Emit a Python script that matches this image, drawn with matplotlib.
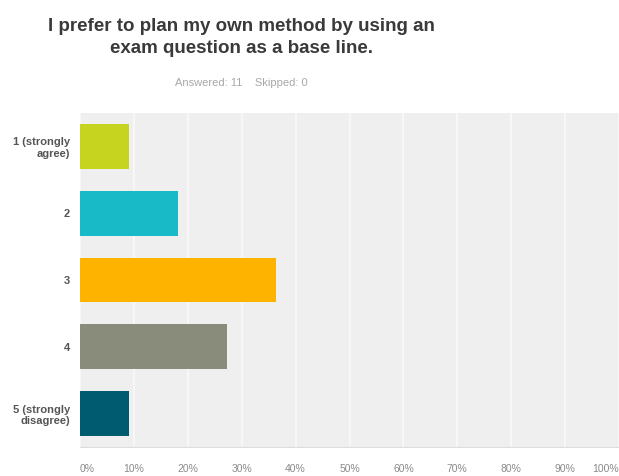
import matplotlib
matplotlib.use("Agg")
import matplotlib.pyplot as plt

plt.rcParams['font.family'] = ['Liberation Sans', 'DejaVu Sans']

title = "I prefer to plan my own method by using an\nexam question as a base line."
answered = 11
skipped = 0
choices = ["1 (strongly\nagree)", "2", "3", "4", "5 (strongly\ndisagree)"]
counts = [1, 2, 4, 3, 1]
colors = ["#c6d31f", "#17bac6", "#fdb300", "#8a8c7b", "#005a70"]
xticks = [0, 10, 20, 30, 40, 50, 60, 70, 80, 90, 100]

pct = [c / answered * 100 for c in counts]

fig = plt.figure(figsize=(6.19, 4.76), dpi=100)
ax = fig.add_axes([80 / 619, 29 / 476, 539 / 619, 334 / 476])
ax.set_facecolor("#efefef")

ypos = list(range(len(choices)))
ax.barh(ypos, pct, height=0.67, color=colors, zorder=3)

ax.set_xlim(0, 100)
ax.set_ylim(len(choices) - 0.5, -0.5)
ax.set_xticks(xticks)
ax.set_xticklabels([f"{t}%" for t in xticks], fontsize=7.5, color="#8a8a8a")
for lbl, t in zip(ax.get_xticklabels(), xticks):
    if t == 0:
        lbl.set_ha("left")
    elif t == 100:
        lbl.set_ha("right")
ax.set_yticks(ypos)
ax.set_yticklabels(choices, fontsize=8, fontweight="bold", color="#555555",
                   linespacing=1.15)
ax.tick_params(axis="both", length=0)
ax.tick_params(axis="x", pad=12)
ax.tick_params(axis="y", pad=7)
ax.grid(axis="x", color="#fafafa", linewidth=1.1, zorder=1)
for s in ["top", "right", "left"]:
    ax.spines[s].set_visible(False)
ax.spines["bottom"].set_color("#dddddd")

fig.text(241 / 619, 1 - 37.5 / 476, title, ha="center", va="center",
         fontsize=13.5, fontweight="bold", color="#3a3a3a", linespacing=1.4)
fig.text(241 / 619, 1 - 83 / 476, f"Answered: {answered}    Skipped: {skipped}",
         ha="center", va="center", fontsize=8, color="#a8a8a8")

fig.savefig("out.png", dpi=100)
